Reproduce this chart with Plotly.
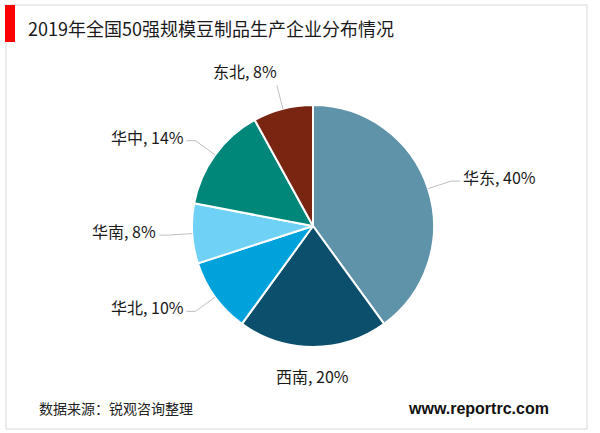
import math
import plotly.graph_objects as go

# ---- data ----
regions = ["华东", "西南", "华北", "华南", "华中", "东北"]
shares = [40, 20, 10, 8, 14, 8]
colors = ["#5f93a9", "#0b4f6c", "#00a2dc", "#6fd1f6", "#00877a", "#7a2412"]
title_text = "2019年全国50强规模豆制品生产企业分布情况"
source_text = "数据来源：锐观咨询整理"
site_text = "www.reportrc.com"

W, H = 600, 433
CX, CY, R = 313, 226, 121  # pie centre / radius in pixels
CJK = "Noto Sans CJK SC"

def px(x):
    return x / W

def py(y):
    return 1 - y / H

fig = go.Figure(go.Pie(
    labels=regions, values=shares, sort=False, direction="clockwise",
    rotation=0, textinfo="none", hoverinfo="label+percent",
    marker=dict(colors=colors, line=dict(color="white", width=2)),
    domain=dict(x=[px(CX - R), px(CX + R)], y=[py(CY + R), py(CY - R)]),
    showlegend=False,
))

shapes = [
    dict(type="rect", xref="paper", yref="paper", x0=px(6), x1=px(587), y0=py(429), y1=py(5),
         line=dict(color="#d9d9d9", width=1), fillcolor="rgba(0,0,0,0)", layer="below"),
    dict(type="rect", xref="paper", yref="paper", x0=px(5), x1=px(15), y0=py(42), y1=py(5),
         line=dict(width=0), fillcolor="#ff0000"),
]
annotations = [
    dict(text=title_text, x=px(26), y=py(28), xref="paper", yref="paper", xanchor="left",
         yanchor="middle", showarrow=False, font=dict(family=CJK, size=18, color="#1a1a1a")),
    dict(text=source_text, x=px(37), y=py(408), xref="paper", yref="paper", xanchor="left",
         yanchor="middle", showarrow=False, font=dict(family=CJK, size=14, color="#222")),
    dict(text="<b>" + site_text + "</b>", x=px(551), y=py(408), xref="paper", yref="paper",
         xanchor="right", yanchor="middle", showarrow=False,
         font=dict(family="Liberation Sans, Arial", size=16, color="#111")),
]

total = sum(shares)
cum = 0
line_col = "#bfbfbf"
lab_font = dict(family=CJK, size=16, color="#1a1a1a")
for name, v in zip(regions, shares):
    mid = (cum + v / 2) / total * 2 * math.pi
    cum += v
    s, c = math.sin(mid), math.cos(mid)
    ex, ey = CX + R * s, CY - R * c
    qx, qy = CX + 1.2 * R * s, CY - 1.2 * R * c
    label = f"{name}, {round(v / total * 100)}%"
    if abs(s) < 0.1:
        tx, ty = CX + 1.12 * R * s, CY - 1.12 * R * c
        annotations.append(dict(text=label, x=px(tx), y=py(ty), xref="paper", yref="paper",
                                xanchor="center", yanchor="top" if c < 0 else "bottom",
                                showarrow=False, font=lab_font))
        continue
    shapes.append(dict(type="line", xref="paper", yref="paper", x0=px(ex), y0=py(ey),
                       x1=px(qx), y1=py(qy), line=dict(color=line_col, width=1)))
    if abs(c) > 0.9:
        annotations.append(dict(text=label, x=px(qx + 2), y=py(qy), xref="paper", yref="paper",
                                xanchor="right" if s < 0 else "left", yanchor="bottom",
                                showarrow=False, font=lab_font))
        continue
    sign = 1 if s > 0 else -1
    hx = qx + sign * 9
    shapes.append(dict(type="line", xref="paper", yref="paper", x0=px(qx), y0=py(qy),
                       x1=px(hx), y1=py(qy), line=dict(color=line_col, width=1)))
    annotations.append(dict(text=label, x=px(hx + sign * 1), y=py(qy - 4), xref="paper", yref="paper",
                            xanchor="left" if sign > 0 else "right", yanchor="middle",
                            showarrow=False, font=lab_font))

fig.update_layout(
    width=W, height=H, margin=dict(l=0, r=0, t=0, b=0),
    paper_bgcolor="white", plot_bgcolor="white",
    shapes=shapes, annotations=annotations,
)

fig.write_html("out.html", config={"displayModeBar": False},
               post_script="document.body.style.margin='0';document.body.style.overflow='hidden';")
